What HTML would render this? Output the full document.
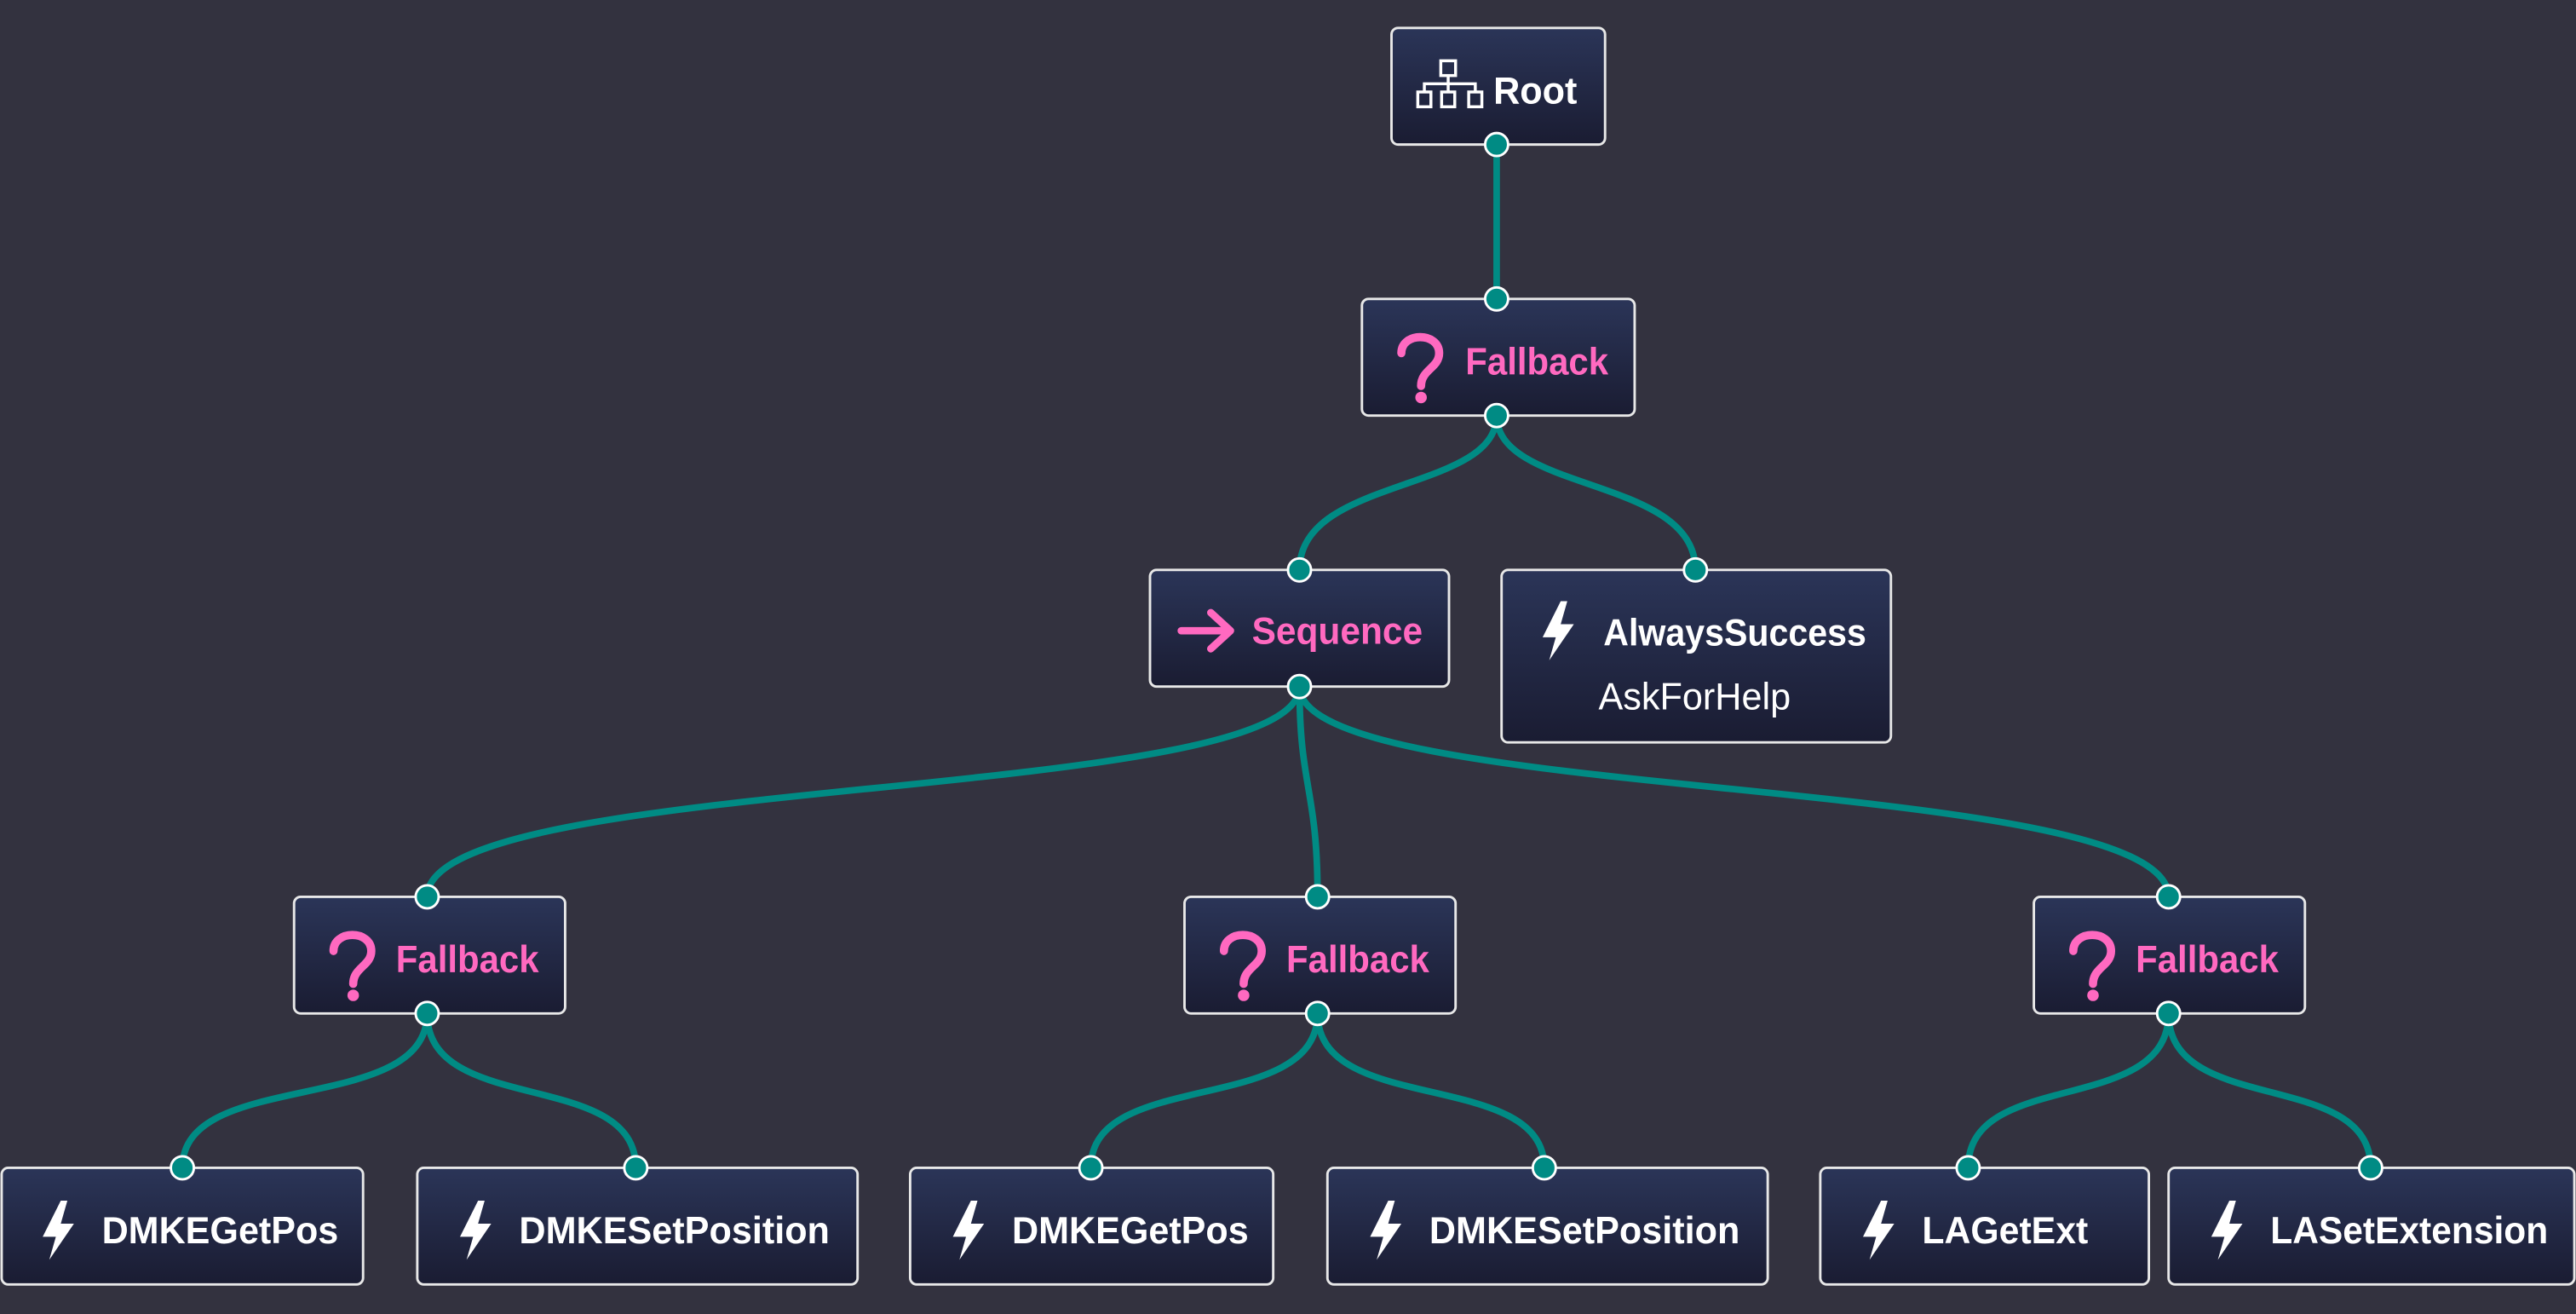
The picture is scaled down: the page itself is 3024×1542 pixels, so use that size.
<!DOCTYPE html>
<html><head><meta charset="utf-8"><style>
html,body{margin:0;padding:0;background:#33323f;}
svg{display:block;}
text{font-family:"Liberation Sans",sans-serif;font-weight:bold;font-size:23px;}
</style></head><body>
<svg width="3024" height="1542" viewBox="0 0 1568 800" preserveAspectRatio="none" xmlns="http://www.w3.org/2000/svg">
<defs>
<linearGradient id="g" x1="0" y1="0" x2="0" y2="1">
<stop offset="0" stop-color="#2b3558"/><stop offset="1" stop-color="#1a1c32"/>
</linearGradient>
<symbol id="bolt" viewBox="0 0 20 36" overflow="visible">
<path d="M12,0 L1,22 L9,22 L5,36 L20,14 L12,14 L16,0 Z" fill="#fff"/>
</symbol>
<symbol id="q" overflow="visible">
<path d="M0,10 C0,-3 23,-3 23,10 C23,19 12,20 12,30" fill="none" stroke="#ff69c0" stroke-width="5" stroke-linecap="round"/>
<circle cx="12" cy="37" r="3.5" fill="#ff69c0"/>
</symbol>
</defs>
<rect width="1568" height="800" fill="#33323f"/>
<g fill="none" stroke="#008b84" stroke-width="4">
<path d="M911,88 L911,182"/>
<path d="M911,253 C911,300 791,290 791,347"/>
<path d="M911,253 C911,300 1032,290 1032,347"/>
<path d="M791,418 C791,490 260,470 260,546"/>
<path d="M791,418 C791,480 802,480 802,546"/>
<path d="M791,418 C791,490 1320,470 1320,546"/>
<path d="M260,617 C260,680 111,650 111,711"/>
<path d="M260,617 C260,680 387,650 387,711"/>
<path d="M802,617 C802,680 664,650 664,711"/>
<path d="M802,617 C802,680 940,650 940,711"/>
<path d="M1320,617 C1320,680 1198,650 1198,711"/>
<path d="M1320,617 C1320,680 1443,650 1443,711"/>
</g>
<g fill="url(#g)" stroke="#e8e8e8" stroke-width="1.5">
<rect x="847" y="17" width="130" height="71" rx="4"/>
<rect x="829" y="182" width="166" height="71" rx="4"/>
<rect x="700" y="347" width="182" height="71" rx="4"/>
<rect x="914" y="347" width="237" height="105" rx="4"/>
<rect x="179" y="546" width="165" height="71" rx="4"/>
<rect x="721" y="546" width="165" height="71" rx="4"/>
<rect x="1238" y="546" width="165" height="71" rx="4"/>
<rect x="1" y="711" width="220" height="71" rx="4"/>
<rect x="254" y="711" width="268" height="71" rx="4"/>
<rect x="554" y="711" width="221" height="71" rx="4"/>
<rect x="808" y="711" width="268" height="71" rx="4"/>
<rect x="1108" y="711" width="200" height="71" rx="4"/>
<rect x="1320" y="711" width="247" height="71" rx="4"/>
</g>
<g fill="none" stroke="#fff" stroke-width="1.8">
<rect x="877" y="37" width="9" height="9"/>
<path d="M881.5,46 V51 M867,56 V51 H898 V56 M881.5,51 V56"/>
<rect x="863" y="56" width="8" height="9"/><rect x="877.5" y="56" width="8" height="9"/><rect x="894" y="56" width="8" height="9"/>
</g>
<text x="909" y="63" fill="#fff" textLength="51" lengthAdjust="spacingAndGlyphs">Root</text>
<use href="#q" x="853" y="205"/>
<text x="892" y="228" fill="#ff69c0" textLength="87" lengthAdjust="spacingAndGlyphs">Fallback</text>
<path d="M719,384 H748 M737,373 L749,384 L737,395" fill="none" stroke="#ff69c0" stroke-width="4.5" stroke-linecap="round" stroke-linejoin="round"/>
<text x="762" y="392" fill="#ff69c0" textLength="104" lengthAdjust="spacingAndGlyphs">Sequence</text>
<use href="#bolt" x="938" y="366" width="20" height="36"/>
<text x="976" y="393" fill="#fff" textLength="160" lengthAdjust="spacingAndGlyphs">AlwaysSuccess</text>
<text x="973" y="432" fill="#fff" style="font-weight:normal" textLength="117" lengthAdjust="spacingAndGlyphs">AskForHelp</text>
<use href="#q" x="203" y="569"/>
<text x="241" y="592" fill="#ff69c0" textLength="87" lengthAdjust="spacingAndGlyphs">Fallback</text>
<use href="#q" x="745" y="569"/>
<text x="783" y="592" fill="#ff69c0" textLength="87" lengthAdjust="spacingAndGlyphs">Fallback</text>
<use href="#q" x="1262" y="569"/>
<text x="1300" y="592" fill="#ff69c0" textLength="87" lengthAdjust="spacingAndGlyphs">Fallback</text>
<use href="#bolt" x="25" y="731" width="20" height="36"/>
<text x="62" y="757" fill="#fff" textLength="144" lengthAdjust="spacingAndGlyphs">DMKEGetPos</text>
<use href="#bolt" x="279" y="731" width="20" height="36"/>
<text x="316" y="757" fill="#fff" textLength="189" lengthAdjust="spacingAndGlyphs">DMKESetPosition</text>
<use href="#bolt" x="579" y="731" width="20" height="36"/>
<text x="616" y="757" fill="#fff" textLength="144" lengthAdjust="spacingAndGlyphs">DMKEGetPos</text>
<use href="#bolt" x="833" y="731" width="20" height="36"/>
<text x="870" y="757" fill="#fff" textLength="189" lengthAdjust="spacingAndGlyphs">DMKESetPosition</text>
<use href="#bolt" x="1133" y="731" width="20" height="36"/>
<text x="1170" y="757" fill="#fff" textLength="101" lengthAdjust="spacingAndGlyphs">LAGetExt</text>
<use href="#bolt" x="1345" y="731" width="20" height="36"/>
<text x="1382" y="757" fill="#fff" textLength="169" lengthAdjust="spacingAndGlyphs">LASetExtension</text>
<g fill="#008b84" stroke="#fff" stroke-width="1.5">
<circle cx="911" cy="88" r="7"/><circle cx="911" cy="182" r="7"/><circle cx="911" cy="253" r="7"/>
<circle cx="791" cy="347" r="7"/><circle cx="1032" cy="347" r="7"/><circle cx="791" cy="418" r="7"/>
<circle cx="260" cy="546" r="7"/><circle cx="802" cy="546" r="7"/><circle cx="1320" cy="546" r="7"/>
<circle cx="260" cy="617" r="7"/><circle cx="802" cy="617" r="7"/><circle cx="1320" cy="617" r="7"/>
<circle cx="111" cy="711" r="7"/><circle cx="387" cy="711" r="7"/><circle cx="664" cy="711" r="7"/>
<circle cx="940" cy="711" r="7"/><circle cx="1198" cy="711" r="7"/><circle cx="1443" cy="711" r="7"/>
</g>
</svg>
</body></html>
